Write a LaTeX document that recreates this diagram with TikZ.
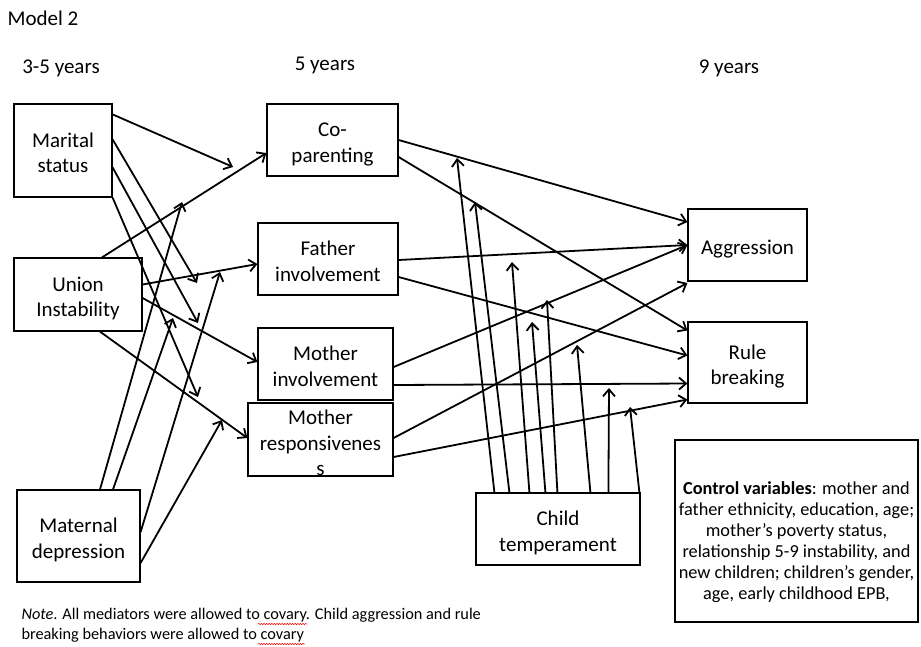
\documentclass[tikz,border=0pt]{standalone}
\usepackage{fontspec}
\setmainfont{Carlito}
\usetikzlibrary{arrows.meta,positioning,calc,shadows,decorations.pathmorphing}

\tikzset{
  varbox/.style={draw,line width=1.2pt,fill=white,align=center,inner sep=0pt,
    drop shadow={shadow xshift=1.3pt,shadow yshift=-1.3pt,opacity=.45},
    text height=44pt,text depth=0pt},
  arr/.style={line width=1.8pt,-{Straight Barb[length=7pt,width=12pt]}},
  heading/.style={font=\fontsize{21}{24}\selectfont},
  spell/.style={red,line width=.5pt,decorate,decoration={snake,amplitude=.7pt,segment length=2.6pt}}
}

\begin{document}
\begin{tikzpicture}[x=1pt,y=-1pt,font=\fontsize{21}{25.5}\selectfont]
\useasboundingbox (0,0) rectangle (921,646);

% headings
\node[heading] (title) at (43,18) {Model 2};
\node[heading] (wave1) at (61,68) {3-5 years};
\node[heading] (wave2) at (325,65) {5 years};
\node[heading] (wave3) at (729,68) {9 years};

% predictors
\node[varbox,minimum width=98,minimum height=93] (ms) at (63,150.5) {Marital\\status};
\node[varbox,minimum width=128,minimum height=73] (ui) at (78,294.5) {Union\\Instability};
\node[varbox,minimum width=123,minimum height=92] (md) at (78.5,536) {Maternal\\depression};

% mediators
\node[varbox,minimum width=131,minimum height=72] (cp) at (332.5,140) {Co-\\parenting};
\node[varbox,minimum width=140,minimum height=72] (fi) at (328,259) {Father\\involvement};
\node[varbox,minimum width=135,minimum height=72] (mi) at (325.5,364) {Mother\\involvement};
\node[varbox,minimum width=145,minimum height=73,text height=72pt] (mr) at (320.5,439.5) {Mother\\responsivenes\\s};

% outcomes
\node[varbox,minimum width=119,minimum height=72,text height=19pt] (agg) at (747.5,245) {Aggression};
\node[varbox,minimum width=119,minimum height=81] (rb) at (747.5,362.5) {Rule\\breaking};

\node[varbox,minimum width=164,minimum height=72] (ct) at (558,529) {Child\\temperament};

% controls
\node[varbox,minimum width=243,minimum height=182] (ctrlbox) at (796.5,531) {};
\node[align=center,font=\fontsize{18.3}{21}\selectfont] (ctrl) at (796.5,542) {\textbf{Control variables}: mother and\\father ethnicity, education, age;\\mother’s poverty status,\\relationship 5-9 instability, and\\new children; children’s gender,\\age, early childhood EPB,};

% marital status
\coordinate (msend1) at (233,167);
\coordinate (msend2) at (197,283);
\coordinate (msend3) at (198,323);
\coordinate (msend4) at (198,397);
\draw[arr] ($(ms.north east)+(0,11)$) -- (msend1);
\draw[arr] ($(ms.north east)+(0,36)$) -- (msend2);
\draw[arr] ($(ms.north east)+(0,64)$) -- (msend3);
\draw[arr] (ms.south east) -- (msend4);

% union instability
\draw[arr] ($(ui.north)+(24,0)$) -- ($(cp.west)+(0,13)$);
\draw[arr] ($(ui.east)+(0,-10)$) -- ($(fi.west)+(0,5)$);
\draw[arr] ($(ui.east)+(0,3.5)$) -- ($(mi.west)+(0,-2)$);
\draw[arr] ($(ui.south)+(22,0)$) -- ($(mr.west)+(0,-1.5)$);

% maternal depression
\coordinate (mdend1) at (182,202);
\coordinate (mdend2) at (173,318);
\coordinate (mdend3) at (220,272);
\coordinate (mdend4) at (222,420);
\draw[arr] ($(md.north)+(21.5,0)$) -- (mdend1);
\draw[arr] ($(md.north)+(34.5,0)$) -- (mdend2);
\draw[arr] ($(md.east)+(0,-4)$) -- (mdend3);
\draw[arr] ($(md.east)+(0,27)$) -- (mdend4);

% mediators to outcomes
\draw[arr] (cp.east) -- ($(agg.west)+(0,-23)$);
\draw[arr] ($(cp.east)+(0,17)$) -- ($(rb.west)+(0,-32)$);
\draw[arr] ($(fi.east)+(0,1)$) -- (agg.west);
\draw[arr] ($(fi.east)+(0,18)$) -- ($(rb.west)+(0,-7)$);
\draw[arr] ($(mi.east)+(0,3)$) -- (agg.west);
\draw[arr] ($(mi.east)+(0,21)$) -- ($(rb.west)+(0,21)$);
\draw[arr] ($(mr.east)+(0,-1.5)$) -- ($(agg.west)+(0,38)$);
\draw[arr] ($(mr.east)+(0,17.5)$) -- ($(rb.west)+(0,37)$);

% child temperament
\foreach \dx/\tx/\ty [count=\i] in {19/457/158,34/475/202,54/512/262,70/532/322,82/547/300,115/577/345,133/609/388,164/630/407}{
  \coordinate (ctend\i) at (\tx,\ty);
  \draw[arr] ($(ct.north west)+(\dx,0)$) -- (ctend\i);
}

% note
\node[anchor=west,align=left,font=\fontsize{16.3}{20.5}\selectfont] (note) at (18,625) {\textit{Note}. All mediators were allowed to covary. Child aggression and rule\\breaking behaviors were allowed to covary};
\draw[spell] (258,624) -- (307,624);
\draw[spell] (258,644) -- (305,644);
\end{tikzpicture}
\end{document}
